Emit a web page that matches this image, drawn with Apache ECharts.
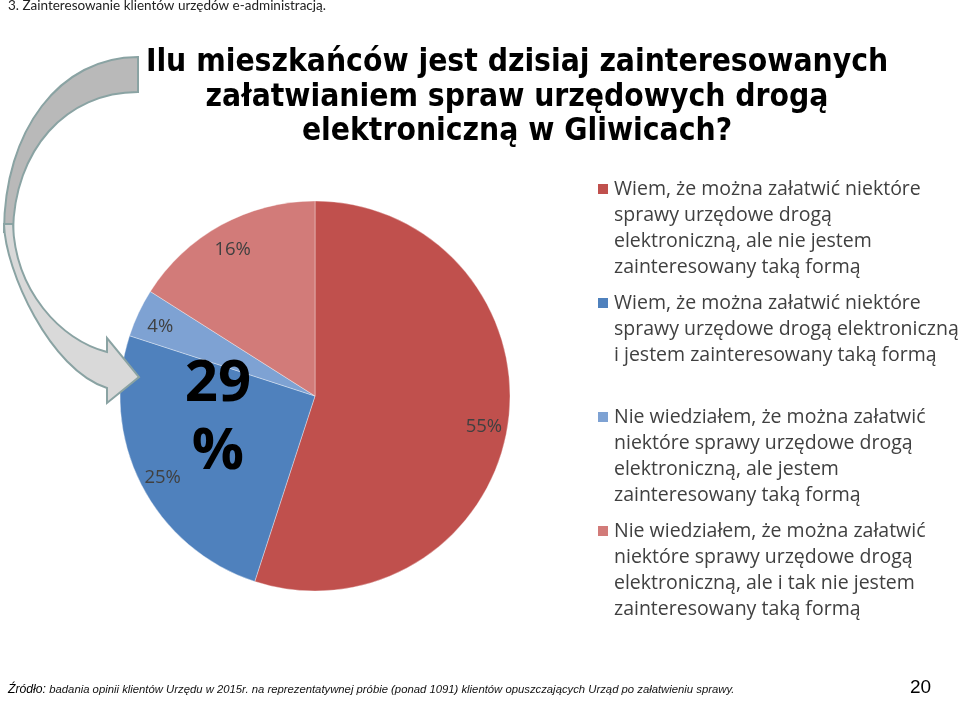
<!DOCTYPE html>
<html>
<head>
<meta charset="utf-8">
<script src="https://cdn.jsdelivr.net/npm/echarts@6/dist/echarts.min.js"></script>
<style>
  html, body { margin: 0; padding: 0; background: #fff; }
  #chart { width: 960px; height: 702px; }
</style>
</head>
<body>
<div id="chart"></div>
<script>
"use strict";
// odpowiedzi (kolejnosc jak w legendzie)
var categories = [
  'Wiem, że można załatwić niektóre sprawy urzędowe drogą elektroniczną, ale nie jestem zainteresowany taką formą',
  'Wiem, że można załatwić niektóre sprawy urzędowe drogą elektroniczną i jestem zainteresowany taką formą',
  'Nie wiedziałem, że można załatwić niektóre sprawy urzędowe drogą elektroniczną, ale jestem zainteresowany taką formą',
  'Nie wiedziałem, że można załatwić niektóre sprawy urzędowe drogą elektroniczną, ale i tak nie jestem zainteresowany taką formą'
];
var values = [55, 25, 4, 16];
var colors = ['#C0504D', '#4F81BD', '#7EA2D3', '#D27B79'];
// podzial legendy na linie
var legendLines = [
  ['Wiem, że można załatwić niektóre', 'sprawy urzędowe drogą', 'elektroniczną, ale nie jestem', 'zainteresowany taką formą'],
  ['Wiem, że można załatwić niektóre', 'sprawy urzędowe drogą elektroniczną', 'i jestem zainteresowany taką formą', ' '],
  ['Nie wiedziałem, że można załatwić', 'niektóre sprawy urzędowe drogą', 'elektroniczną, ale jestem', 'zainteresowany taką formą'],
  ['Nie wiedziałem, że można załatwić', 'niektóre sprawy urzędowe drogą', 'elektroniczną, ale i tak nie jestem', 'zainteresowany taką formą']
];
var titleText = 'Ilu mieszkańców jest dzisiaj zainteresowanych\nzałatwianiem spraw urzędowych drogą\nelektroniczną w Gliwicach?';
var bigLabel = ['29', '%'];

// ksztalty strzalki
echarts.graphic.registerShape('arrowBack', echarts.graphic.extendPath(
  'M138,57 C60,57 4,130 4,232 L13,232 C14,150 66,92 138,92 Z', {}));
echarts.graphic.registerShape('arrowFront', echarts.graphic.extendPath(
  'M4,224 C5,270 50,370 107,388 L107,403 L139,377 L107,338 L107,352 C60,340 15,290 13,224 Z', {}));

var pieData = categories.map(function (name, i) {
  return { name: name, value: values[i], itemStyle: { color: colors[i] } };
});

var legendRich = {
  t: { fontFamily: 'Open Sans', fontSize: 19.5, lineHeight: 26, color: '#404040' },
  g: { width: 6 },
  sp: { width: 16 }
};
colors.forEach(function (c, i) {
  legendRich['b' + i] = { width: 10, height: 10, backgroundColor: c, verticalAlign: 'middle' };
});

var chart = echarts.init(document.getElementById('chart'));
chart.setOption({
  backgroundColor: '#fff',
  animation: false,
  title: {
    text: titleText,
    left: 512,
    top: 41,
    textAlign: 'center',
    textStyle: { fontFamily: 'DejaVu Sans Condensed', fontWeight: 'bold', fontSize: 31.5, lineHeight: 34.5, color: '#000' }
  },
  legend: {
    orient: 'vertical',
    left: 587,
    top: 174,
    itemGap: 16,
    itemWidth: 0,
    itemHeight: 0,
    itemStyle: { opacity: 0 },
    selectedMode: false,
    data: categories,
    formatter: function (name) {
      var i = categories.indexOf(name);
      var lines = legendLines[i];
      var out = '{b' + i + '|}{g|}{t|' + lines[0] + '}';
      for (var k = 1; k < lines.length; k++) {
        out += '\n{sp|}{t|' + lines[k] + '}';
      }
      return out;
    },
    textStyle: { rich: legendRich }
  },
  series: [{
    type: 'pie',
    center: [315, 396],
    radius: 195,
    startAngle: 90,
    clockwise: true,
    label: { show: false },
    labelLine: { show: false },
    itemStyle: { borderColor: 'rgba(255,255,255,0.35)', borderWidth: 1 },
    emphasis: { disabled: true },
    data: pieData
  }, {
    // tylko etykiety procentowe
    type: 'pie',
    center: [315, 400],
    radius: [140, 196],
    startAngle: 90,
    clockwise: true,
    silent: true,
    itemStyle: { color: 'rgba(0,0,0,0)' },
    label: {
      show: true,
      position: 'inside',
      formatter: '{c}%',
      fontFamily: 'Open Sans',
      fontSize: 18.5,
      color: '#404040'
    },
    labelLine: { show: false },
    data: categories.map(function (name, i) { return { name: name, value: values[i] }; })
  }],
  graphic: [
    {
      type: 'text', x: 8, y: -1,
      style: { text: '3. Zainteresowanie klientów urzędów e-administracją.', font: '13.5px Lato', fill: '#222' }
    },
    {
      type: 'arrowBack', z: 100,
      shape: {},
      style: { fill: '#b9b9b9', stroke: '#8aa3a3', lineWidth: 2 }
    },
    {
      type: 'arrowFront', z: 101,
      shape: {},
      style: { fill: '#d9d9d9', stroke: '#8aa3a3', lineWidth: 2 }
    },
    {
      type: 'text', z: 102, x: 218, y: 384,
      style: { text: bigLabel[0], font: 'bold 58px "Open Sans"', fill: '#000', align: 'center', verticalAlign: 'middle' }
    },
    {
      type: 'text', z: 102, x: 218, y: 452,
      style: { text: bigLabel[1], font: 'bold 58px "Open Sans"', fill: '#000', align: 'center', verticalAlign: 'middle' }
    },
    {
      type: 'text', x: 8, y: 684,
      style: {
        text: '{a|Źródło:} {b|badania opinii klientów Urzędu w 2015r. na reprezentatywnej próbie (ponad 1091) klientów opuszczających Urząd po załatwieniu sprawy.}',
        rich: {
          a: { fontFamily: 'Liberation Sans', fontStyle: 'italic', fontSize: 12.2, fill: '#000' },
          b: { fontFamily: 'Liberation Sans', fontStyle: 'italic', fontSize: 11.3, fill: '#111' }
        }
      }
    },
    {
      type: 'text', x: 910, y: 678,
      style: { text: '20', font: '19px "Liberation Sans"', fill: '#000' }
    }
  ]
});
</script>
</body>
</html>
